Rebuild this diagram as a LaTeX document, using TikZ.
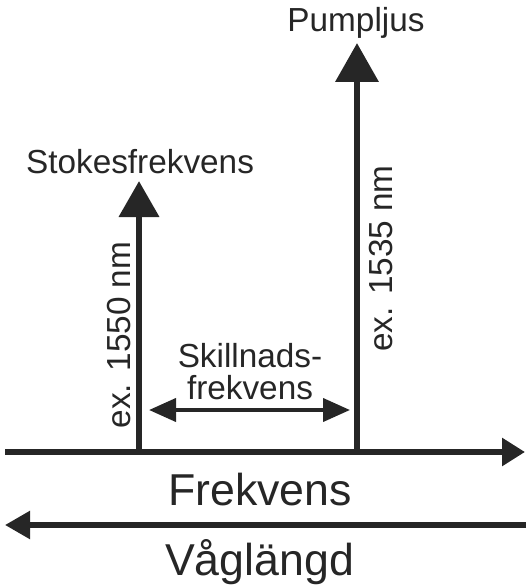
\documentclass[tikz,border=0pt]{standalone}
\usepackage{fontspec}
\setmainfont{Liberation Sans}
\usetikzlibrary{arrows.meta}
\definecolor{ink}{HTML}{262626}
\tikzstyle{label} = [text=ink, font=\fontsize{25}{24}\selectfont, inner sep=0pt]
\tikzstyle{biglabel} = [text=ink, font=\fontsize{33.5}{36}\selectfont, inner sep=0pt]
\tikzstyle{axis} = [draw=ink, line width=4.9pt]
\tikzstyle{beam} = [draw=ink, line width=5.2pt]
\tikzstyle{tmp} = [coordinate]

\begin{document}
\begin{tikzpicture}[x=0.75pt, y=-0.75pt]
            \useasboundingbox (0,0) rectangle (526,588);
            % frequency axis
            \node [tmp] (fstart) at (5,452) {};
            \node [tmp] (fend) at (525,452) {};
            \node [biglabel, anchor=base] (freq) at (260,505) {Frekvens};
            % wavelength axis
            \node [tmp] (wstart) at (526,525) {};
            \node [tmp] (wend) at (5,525) {};
            \node [biglabel, anchor=base] (wave) at (259.5,575) {Våglängd};
            % stokes and pump lines
            \node [tmp] (stokesfoot) at (139,452) {};
            \node [tmp] (stokestip) at (139,181) {};
            \node [label, anchor=base] (stokes) at (140,173) {Stokesfrekvens};
            \node [label, anchor=base, rotate=90] (stokeswl) at (130,335) {ex. 1550 nm};
            \node [tmp] (pumpfoot) at (357,452) {};
            \node [tmp] (pumptip) at (357,43) {};
            \node [label, anchor=base] (pump) at (356,32) {Pumpljus};
            \node [label, anchor=base, rotate=90] (pumpwl) at (392,258.5) {ex. 1535 nm};
            % difference
            \node [tmp] (dleft) at (149,410) {};
            \node [tmp] (dright) at (350,410) {};
            \node [label, align=center] (diff) at (250,371.5) {Skillnads-\\frekvens};

            \draw [axis, -{Triangle[length=17.25pt, width=20.25pt]}] (fstart) -- (fend);
            \draw [axis, line width=4.1pt, -{Triangle[length=18.75pt, width=20.25pt]}] (wstart) -- (wend);
            \draw [beam, -{Triangle[length=27pt, width=29.25pt]}] (stokesfoot) -- (stokestip);
            \draw [beam, -{Triangle[length=29.25pt, width=31.5pt]}] (pumpfoot) -- (pumptip);
            \draw [draw=ink, line width=3pt, {Triangle[length=20.25pt, width=17.25pt]}-{Triangle[length=20.25pt, width=17.25pt]}] (dleft) -- (dright);
        \end{tikzpicture}
\end{document}
